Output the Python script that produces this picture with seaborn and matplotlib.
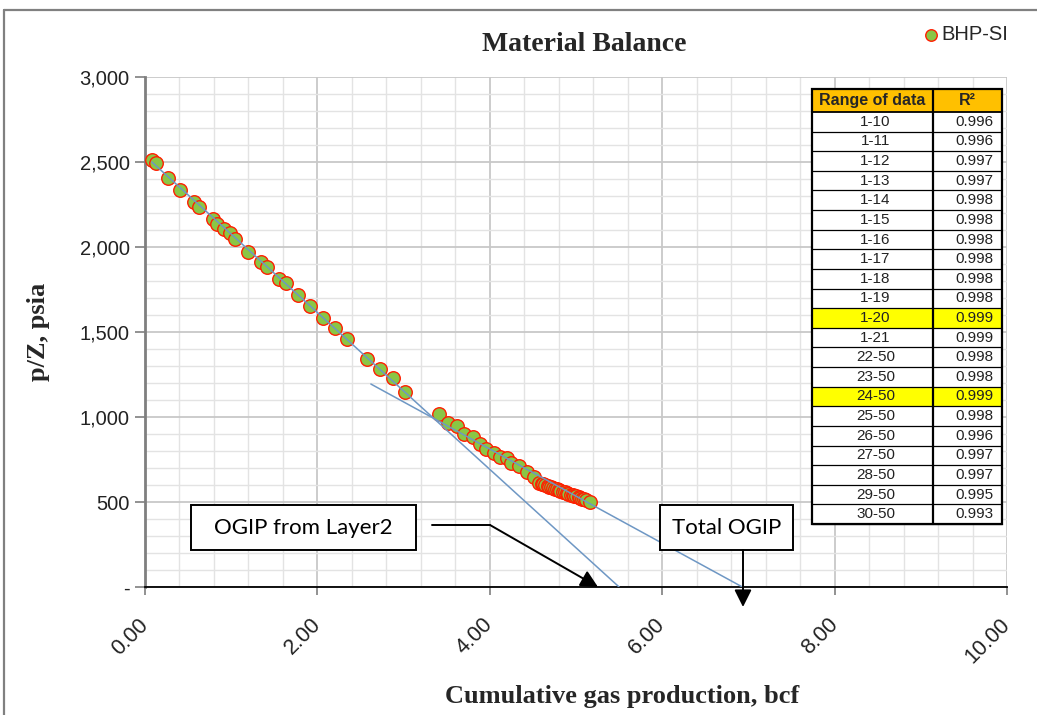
import numpy as np
import pandas as pd
import matplotlib
matplotlib.use("Agg")
import matplotlib.pyplot as plt
from matplotlib.ticker import MultipleLocator, FixedLocator, FuncFormatter
from matplotlib.patches import Rectangle
from matplotlib.lines import Line2D
import seaborn as sns

# ---------------- data ----------------
cum_gas_bcf = [0.08, 0.13, 0.27, 0.41, 0.57, 0.63, 0.79, 0.83, 0.92, 0.99,
               1.04, 1.19, 1.35, 1.41, 1.56, 1.64, 1.78, 1.91, 2.07, 2.20,
               2.34, 2.58, 2.73, 2.88, 3.02,
               3.41, 3.51, 3.62, 3.70, 3.80, 3.89, 3.96, 4.05, 4.12, 4.20,
               4.25, 4.34, 4.43, 4.51,
               4.57, 4.60, 4.62, 4.64, 4.67, 4.69, 4.71, 4.73, 4.76, 4.78,
               4.80, 4.82, 4.85, 4.87, 4.89, 4.91, 4.94, 4.96, 4.98, 5.00,
               5.03, 5.05, 5.07, 5.09, 5.12, 5.16]
p_over_z_psia = [2512, 2496, 2407, 2335, 2266, 2233, 2163, 2133, 2104, 2084,
                 2045, 1972, 1913, 1880, 1813, 1786, 1718, 1653, 1584, 1522,
                 1457, 1341, 1280, 1232, 1149,
                 1018, 963, 947, 900, 881, 841, 810, 786, 767, 757,
                 728, 712, 678, 649,
                 614, 607, 604, 600, 594, 591, 587, 583, 577, 574,
                 570, 566, 561, 557, 553, 550, 544, 541, 537, 533,
                 528, 524, 520, 517, 511, 502]
series_name = "BHP-SI"

# straight-line extrapolations
fit_layer2_x = [0.08, 5.50]
fit_layer2_y = [2500, 0]
fit_total_x = [2.62, 6.93]
fit_total_y = [1194, 0]

range_labels = ["1-10", "1-11", "1-12", "1-13", "1-14", "1-15", "1-16", "1-17",
                "1-18", "1-19", "1-20", "1-21", "22-50", "23-50", "24-50",
                "25-50", "26-50", "27-50", "28-50", "29-50", "30-50"]
r2_values = ["0.996", "0.996", "0.997", "0.997", "0.998", "0.998", "0.998",
             "0.998", "0.998", "0.998", "0.999", "0.999", "0.998", "0.998",
             "0.999", "0.998", "0.996", "0.997", "0.997", "0.995", "0.993"]
highlight_rows = ["1-20", "24-50"]
table_headers = ["Range of data", "R²"]

x_ticks = [0, 2, 4, 6, 8, 10]
y_ticks = [0, 500, 1000, 1500, 2000, 2500, 3000]

title_text = "Material Balance"
x_label = "Cumulative gas production, bcf"
y_label = "p/Z, psia"
note_layer2 = "OGIP from Layer2"
note_total = "Total OGIP"

# ---------------- style ----------------
sns.set_theme(style="white")
plt.rcParams["font.family"] = ["Liberation Sans", "DejaVu Sans"]

W, H = 1037, 715
fig = plt.figure(figsize=(W / 100, H / 100), dpi=100)
fig.patch.set_facecolor("white")

def fx(px):
    return px / W

def fy(py):
    return 1 - py / H

ax_l, ax_r, ax_t, ax_b = 145, 1007, 77, 587
ax = fig.add_axes([fx(ax_l), fy(ax_b), fx(ax_r) - fx(ax_l), fy(ax_t) - fy(ax_b)])
ax.set_facecolor("white")

df = pd.DataFrame({"x": cum_gas_bcf, "y": p_over_z_psia})
sns.scatterplot(data=df, x="x", y="y", ax=ax, s=95, color="#8AC645",
                edgecolor="#FF1E00", linewidth=1.0, label=series_name, zorder=3)
sns.lineplot(x=fit_layer2_x, y=fit_layer2_y, ax=ax, color="#6E97C4",
             linewidth=1.1, legend=False, zorder=4)
sns.lineplot(x=fit_total_x, y=fit_total_y, ax=ax, color="#6E97C4",
             linewidth=1.1, legend=False, zorder=4)

ax.set_xlim(0, 10)
ax.set_ylim(0, 3000)
ax.xaxis.set_major_locator(FixedLocator(x_ticks))
ax.yaxis.set_major_locator(FixedLocator(y_ticks))
ax.xaxis.set_minor_locator(MultipleLocator(0.4))
ax.yaxis.set_minor_locator(MultipleLocator(100))
ax.xaxis.set_major_formatter(FuncFormatter(lambda v, p: f"{v:.2f}"))
ax.yaxis.set_major_formatter(FuncFormatter(lambda v, p: "-" if v == 0 else f"{int(v):,}"))

ax.grid(True, which="major", color="#C8C8C8", linewidth=1.3, zorder=0)
ax.grid(True, which="minor", color="#E3E3E3", linewidth=1.0, zorder=0)
ax.set_axisbelow(True)

for s in ["top", "right"]:
    ax.spines[s].set_visible(False)
ax.spines["left"].set_color("#7F7F7F")
ax.spines["left"].set_linewidth(2.0)
ax.spines["bottom"].set_color("black")
ax.spines["bottom"].set_linewidth(1.3)

ax.tick_params(axis="y", which="major", direction="out", length=7, width=1.2,
               color="#7F7F7F", labelsize=14.5, pad=4, left=True)
ax.tick_params(axis="x", which="major", direction="out", length=6, width=1.2,
               color="#7F7F7F", labelsize=15.5, pad=19, bottom=True)
ax.tick_params(which="minor", length=0)
for lab in ax.get_xticklabels():
    lab.set_rotation(45)
    lab.set_rotation_mode("anchor")
    lab.set_ha("right")
    lab.set_va("center")
for lab in ax.get_xticklabels() + ax.get_yticklabels():
    lab.set_color("#222222")

serif = ["Liberation Serif", "DejaVu Serif"]
ax.set_title(title_text, fontsize=20, fontweight="bold", family=serif,
             x=(584 - ax_l) / (ax_r - ax_l), y=(ax_b - 51) / (ax_b - ax_t), pad=0)
ax.set_xlabel(x_label, fontsize=19, fontweight="bold", family=serif)
ax.xaxis.set_label_coords((622 - ax_l) / (ax_r - ax_l), (ax_b - 685) / (ax_b - ax_t))
ax.set_ylabel(y_label, fontsize=19, fontweight="bold", family=serif)
ax.yaxis.set_label_coords((50 - ax_l) / (ax_r - ax_l), 0.5)

# legend
leg = ax.legend(loc="center left", bbox_to_anchor=(fx(925), fy(35)),
                bbox_transform=fig.transFigure, frameon=False, fontsize=14.5,
                handlelength=0.6, handletextpad=0.2, borderpad=0,
                borderaxespad=0, markerscale=0.85)

# ---------------- annotations ----------------
def dx(px):
    return (px - ax_l) / (ax_r - ax_l) * 10

def dy(py):
    return (ax_b - py) / (ax_b - ax_t) * 3000

note_font = ["Lato", "DejaVu Sans"]
for (l, r, t, b, txt) in [(191, 416, 505, 550, note_layer2),
                          (660, 793, 505, 550, note_total)]:
    ax.add_patch(Rectangle((dx(l), dy(b)), dx(r) - dx(l), dy(t) - dy(b),
                           facecolor="white", edgecolor="black", linewidth=1.4,
                           zorder=6, clip_on=False))
    ax.text((dx(l) + dx(r)) / 2, (dy(t) + dy(b)) / 2, txt, ha="center",
            va="center", fontsize=16, family=note_font, color="black", zorder=7)

ax.plot([dx(432), dx(490)], [dy(525), dy(525)], color="black", lw=1.4,
        zorder=6, clip_on=False)
ax.annotate("", xy=(dx(598), dy(587)), xytext=(dx(490), dy(525)),
            arrowprops=dict(arrowstyle="-|>", color="black", lw=1.4,
                            mutation_scale=26, shrinkA=0, shrinkB=0),
            zorder=6, annotation_clip=False)
ax.annotate("", xy=(dx(743), dy(607)), xytext=(dx(743), dy(550)),
            arrowprops=dict(arrowstyle="-|>", color="black", lw=1.4,
                            mutation_scale=26, shrinkA=0, shrinkB=0),
            zorder=6, annotation_clip=False)

# ---------------- table ----------------
t_left, t_mid, t_right = 812, 933, 1002
t_top, t_head, t_bot = 89, 112, 524
n = len(range_labels)
row_h = (t_bot - t_head) / n

def frect(l, t, r, b, fc):
    fig.add_artist(Rectangle((fx(l), fy(b)), fx(r) - fx(l), fy(t) - fy(b),
                             transform=fig.transFigure, facecolor=fc,
                             edgecolor="none", zorder=8))

frect(t_left, t_top, t_right, t_head, "#FFC000")
for i, (lab, val) in enumerate(zip(range_labels, r2_values)):
    top = t_head + i * row_h
    bot = top + row_h
    fc = "#FFFF00" if lab in highlight_rows else "white"
    frect(t_left, top, t_right, bot, fc)
    fig.text(fx((t_left + t_mid) / 2 + 3), fy((top + bot) / 2), lab, ha="center",
             va="center", fontsize=11, color="#222222", zorder=10)
    fig.text(fx(t_right - 9), fy((top + bot) / 2), val, ha="right",
             va="center", fontsize=11, color="#222222", zorder=10)
    fig.add_artist(Line2D([fx(t_left), fx(t_right)], [fy(bot), fy(bot)],
                          transform=fig.transFigure, color="black", lw=0.9,
                          zorder=9))
fig.text(fx((t_left + t_mid) / 2), fy((t_top + t_head) / 2), table_headers[0],
         ha="center", va="center", fontsize=11.5, fontweight="bold", zorder=10)
fig.text(fx((t_mid + t_right) / 2), fy((t_top + t_head) / 2), table_headers[1],
         ha="center", va="center", fontsize=11.5, fontweight="bold", zorder=10)
fig.add_artist(Line2D([fx(t_left), fx(t_right)], [fy(t_head), fy(t_head)],
                      transform=fig.transFigure, color="black", lw=1.3, zorder=9))
fig.add_artist(Line2D([fx(t_mid), fx(t_mid)], [fy(t_top), fy(t_bot)],
                      transform=fig.transFigure, color="black", lw=1.6, zorder=9))
fig.add_artist(Rectangle((fx(t_left), fy(t_bot)), fx(t_right) - fx(t_left),
                         fy(t_top) - fy(t_bot), transform=fig.transFigure,
                         facecolor="none", edgecolor="black", lw=1.6, zorder=9))

# outer chart border (left & top)
fig.add_artist(Line2D([fx(4), fx(4)], [fy(10), 0], transform=fig.transFigure,
                      color="#808080", lw=1.6))
fig.add_artist(Line2D([fx(4), 1], [fy(10), fy(10)], transform=fig.transFigure,
                      color="#808080", lw=1.6))

fig.savefig("out.png", dpi=100)
